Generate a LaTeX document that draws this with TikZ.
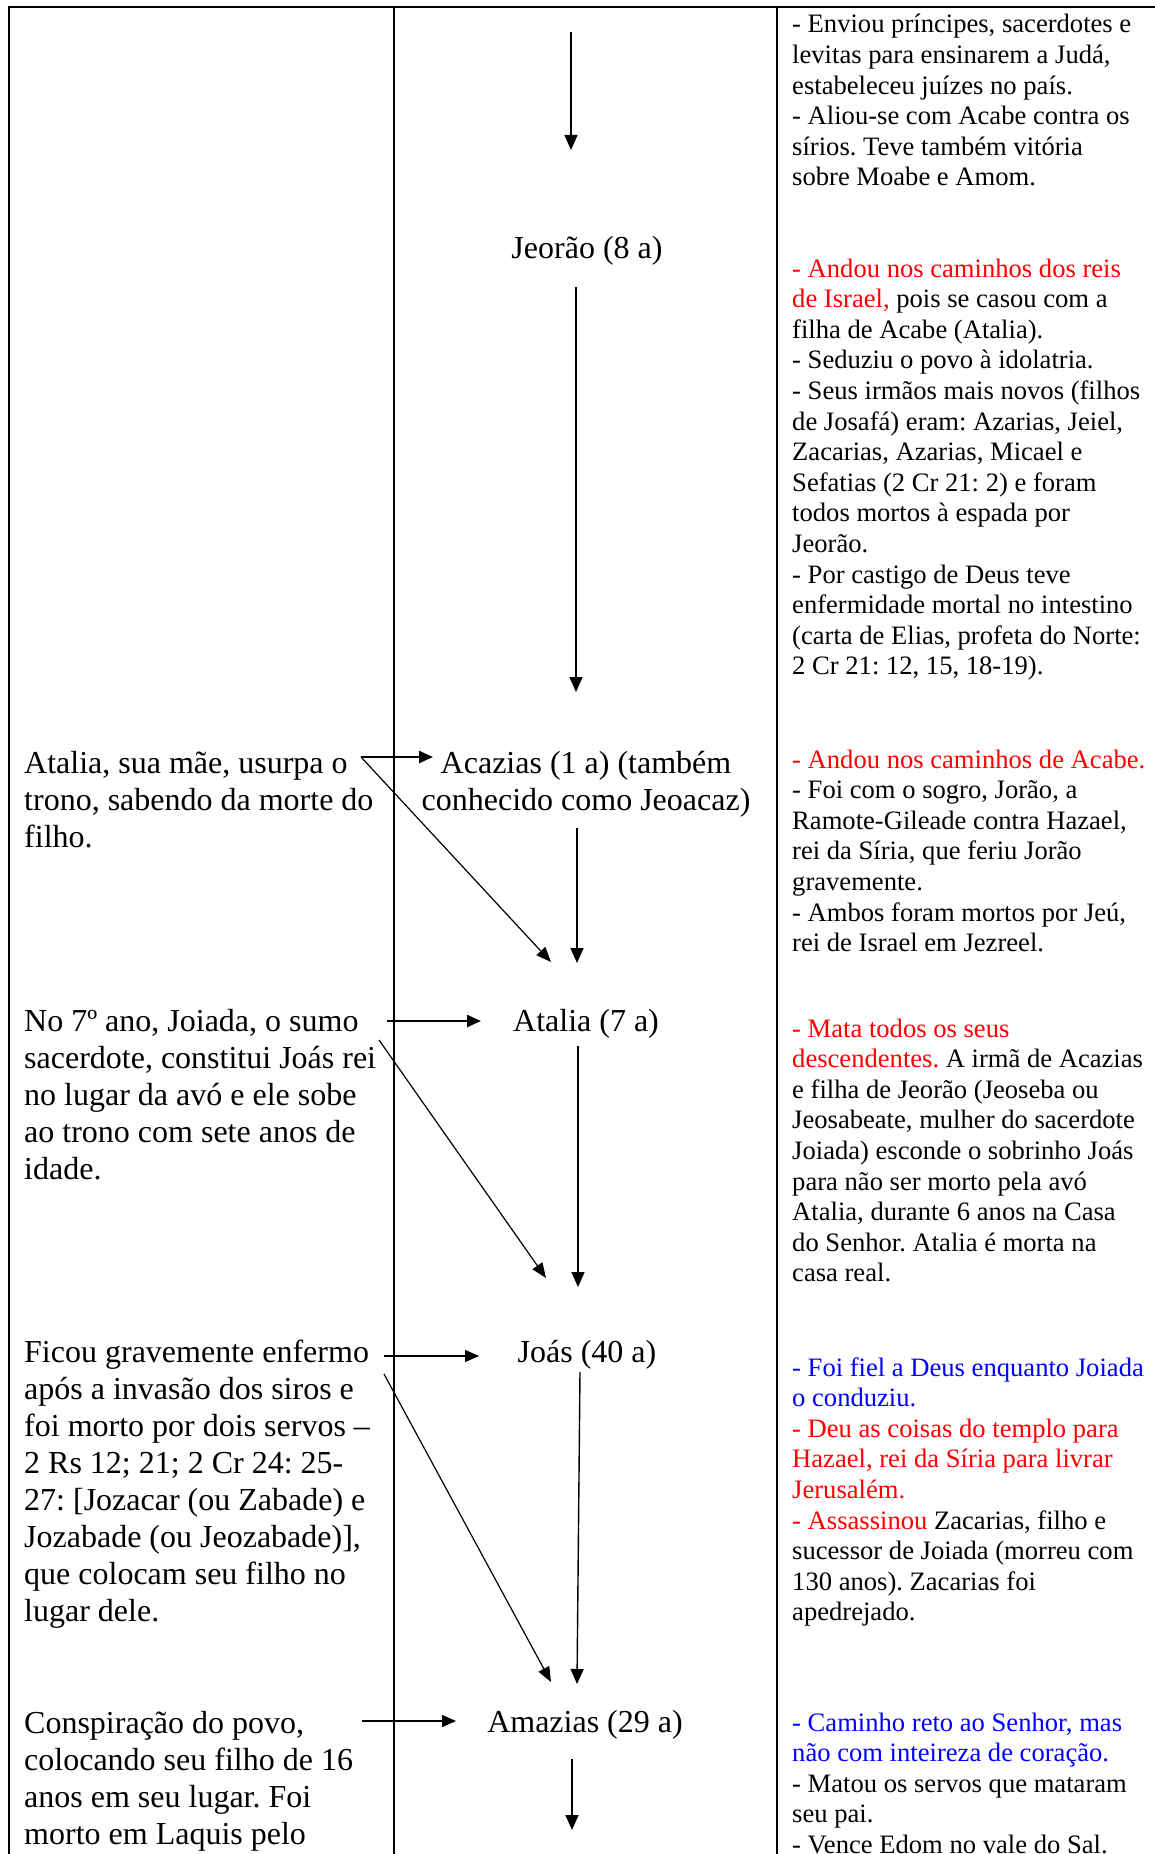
\documentclass[tikz,border=0pt]{standalone}
\usepackage{fontspec}
\setmainfont{Liberation Serif}
\usetikzlibrary{arrows.meta}
\frenchspacing
\definecolor{wred}{RGB}{255,0,0}
\definecolor{wblue}{RGB}{0,0,255}
\newcommand{\blkL}[1]{\vtop{\lineskiplimit=-1000pt\relax\halign{##\hfil\cr#1\crcr}}}
\newcommand{\blkC}[1]{\vtop{\lineskiplimit=-1000pt\relax\halign{\hfil##\hfil\cr#1\crcr}}}
\newcommand{\rd}[1]{\textcolor{wred}{#1}}
\newcommand{\bl}[1]{\textcolor{wblue}{#1}}
\begin{document}
\begin{tikzpicture}[x=1pt,y=-1pt,
  rtext/.style={inner sep=0pt, anchor=base west, font=\fontsize{26.6}{30.6}\selectfont},
  ltext/.style={inner sep=0pt, anchor=base west, font=\fontsize{32}{37}\selectfont},
  king/.style={inner sep=0pt, anchor=base, font=\fontsize{32}{37}\selectfont},
  tablerule/.style={line width=2.2pt},
  vline/.style={line width=1.4pt, -{Triangle[width=13pt,length=15pt]}},
  diag/.style={line width=1.2pt, -{Triangle[width=12pt,length=15pt]}},
  harrowthick/.style={line width=2.4pt, -{Triangle[width=12pt,length=14pt]}},
  harrowthin/.style={line width=1.3pt, -{Triangle[width=12pt,length=14pt]}}]
\clip (0,0) rectangle (1155,1854);
\fill[white] (0,0) rectangle (1155,1854);
% table rules
\draw[tablerule] (9,1860) -- (9,7) -- (1160,7);
\draw[tablerule] (394,7) -- (394,1860);
\draw[tablerule] (777,7) -- (777,1860);

% right column
\node[rtext] (r1) at (792,33) {\blkL{- Enviou príncipes, sacerdotes e\cr
levitas para ensinarem a Judá,\cr
estabeleceu juízes no país.\cr
- Aliou-se com Acabe contra os\cr
sírios. Teve também vitória\cr
sobre Moabe e Amom.}};
\node[rtext] (r2) at (792,277) {\blkL{\rd{- Andou nos caminhos dos reis}\cr
\rd{de Israel,} pois se casou com a\cr
filha de Acabe (Atalia).\cr
- Seduziu o povo à idolatria.\cr
- Seus irmãos mais novos (filhos\cr
de Josafá) eram: Azarias, Jeiel,\cr
Zacarias, Azarias, Micael e\cr
Sefatias (2 Cr 21: 2) e foram\cr
todos mortos à espada por\cr
Jeorão.\cr
- Por castigo de Deus teve\cr
enfermidade mortal no intestino\cr
(carta de Elias, profeta do Norte:\cr
2 Cr 21: 12, 15, 18-19).}};
\node[rtext] (r3) at (792,768) {\blkL{\rd{- Andou nos caminhos de Acabe.}\cr
- Foi com o sogro, Jorão, a\cr
Ramote-Gileade contra Hazael,\cr
rei da Síria, que feriu Jorão\cr
gravemente.\cr
- Ambos foram mortos por Jeú,\cr
rei de Israel em Jezreel.}};
\node[rtext] (r4) at (792,1037) {\blkL{\rd{- Mata todos os seus}\cr
\rd{descendentes.} A irmã de Acazias\cr
e filha de Jeorão (Jeoseba ou\cr
Jeosabeate, mulher do sacerdote\cr
Joiada) esconde o sobrinho Joás\cr
para não ser morto pela avó\cr
Atalia, durante 6 anos na Casa\cr
do Senhor. Atalia é morta na\cr
casa real.}};
\node[rtext] (r5) at (792,1376) {\blkL{\bl{- Foi fiel a Deus enquanto Joiada}\cr
\bl{o conduziu.}\cr
\rd{- Deu as coisas do templo para}\cr
\rd{Hazael, rei da Síria para livrar}\cr
\rd{Jerusalém.}\cr
\rd{- Assassinou} Zacarias, filho e\cr
sucessor de Joiada (morreu com\cr
130 anos). Zacarias foi\cr
apedrejado.}};
\node[rtext] (r6) at (792,1731) {\blkL{\bl{- Caminho reto ao Senhor, mas}\cr
\bl{não com inteireza de coração.}\cr
- Matou os servos que mataram\cr
seu pai.\cr
- Vence Edom no vale do Sal.}};

% middle column
\node[king] (jeorao) at (587,258) {Jeorão (8 a)};
\node[king] (acazias) at (586,773) {\blkC{Acazias (1 a) (também\cr conhecido como Jeoacaz)}};
\node[king] (atalia) at (586,1031) {Atalia (7 a)};
\node[king] (joas) at (587,1362) {Joás (40 a)};
\node[king] (amazias) at (585,1732) {Amazias (29 a)};

% left column
\node[ltext] (l1) at (24,773) {\blkL{Atalia, sua mãe, usurpa o\cr
trono, sabendo da morte do\cr
filho.}};
\node[ltext] (l2) at (24,1031) {\blkL{No 7º ano, Joiada, o sumo\cr
sacerdote, constitui Joás rei\cr
no lugar da avó e ele sobe\cr
ao trono com sete anos de\cr
idade.}};
\node[ltext] (l3) at (24,1362) {\blkL{Ficou gravemente enfermo\cr
após a invasão dos siros e\cr
foi morto por dois servos –\cr
2 Rs 12; 21; 2 Cr 24: 25-\cr
27: [Jozacar (ou Zabade) e\cr
Jozabade (ou Jeozabade)],\cr
que colocam seu filho no\cr
lugar dele.}};
\node[ltext] (l4) at (24,1733) {\blkL{Conspiração do povo,\cr
colocando seu filho de 16\cr
anos em seu lugar. Foi\cr
morto em Laquis pelo}};

% connector end points
\coordinate (t0s) at (571,32);   \coordinate (t0e) at (571,150);
\coordinate (t1s) at (576,287);  \coordinate (t1e) at (576,692);
\coordinate (h1s) at (361,757);  \coordinate (h1e) at (433,757);
\coordinate (d1e) at (551,962);
\coordinate (t2s) at (577,828);  \coordinate (t2e) at (577,963);
\coordinate (h2s) at (387,1021); \coordinate (h2e) at (481,1021);
\coordinate (d2s) at (379,1040); \coordinate (d2e) at (546,1278);
\coordinate (t3s) at (578,1046); \coordinate (t3e) at (578,1287);
\coordinate (h3s) at (384,1356); \coordinate (h3e) at (479,1356);
\coordinate (d3s) at (384,1374); \coordinate (d3e) at (551,1682);
\coordinate (t4s) at (580,1372); \coordinate (t4e) at (577,1684);
\coordinate (h4s) at (362,1721); \coordinate (h4e) at (456,1721);
\coordinate (t5s) at (572,1759); \coordinate (t5e) at (572,1830);

\draw[vline] (t0s) -- (t0e);
\draw[vline] (t1s) -- (t1e);
\draw[harrowthick] (h1s) -- (h1e);
\draw[diag] (h1s) -- (d1e);
\draw[vline] (t2s) -- (t2e);
\draw[harrowthick] (h2s) -- (h2e);
\draw[diag] (d2s) -- (d2e);
\draw[vline] (t3s) -- (t3e);
\draw[harrowthin] (h3s) -- (h3e);
\draw[diag] (d3s) -- (d3e);
\draw[vline] (t4s) -- (t4e);
\draw[harrowthin] (h4s) -- (h4e);
\draw[vline] (t5s) -- (t5e);
\end{tikzpicture}
\end{document}
